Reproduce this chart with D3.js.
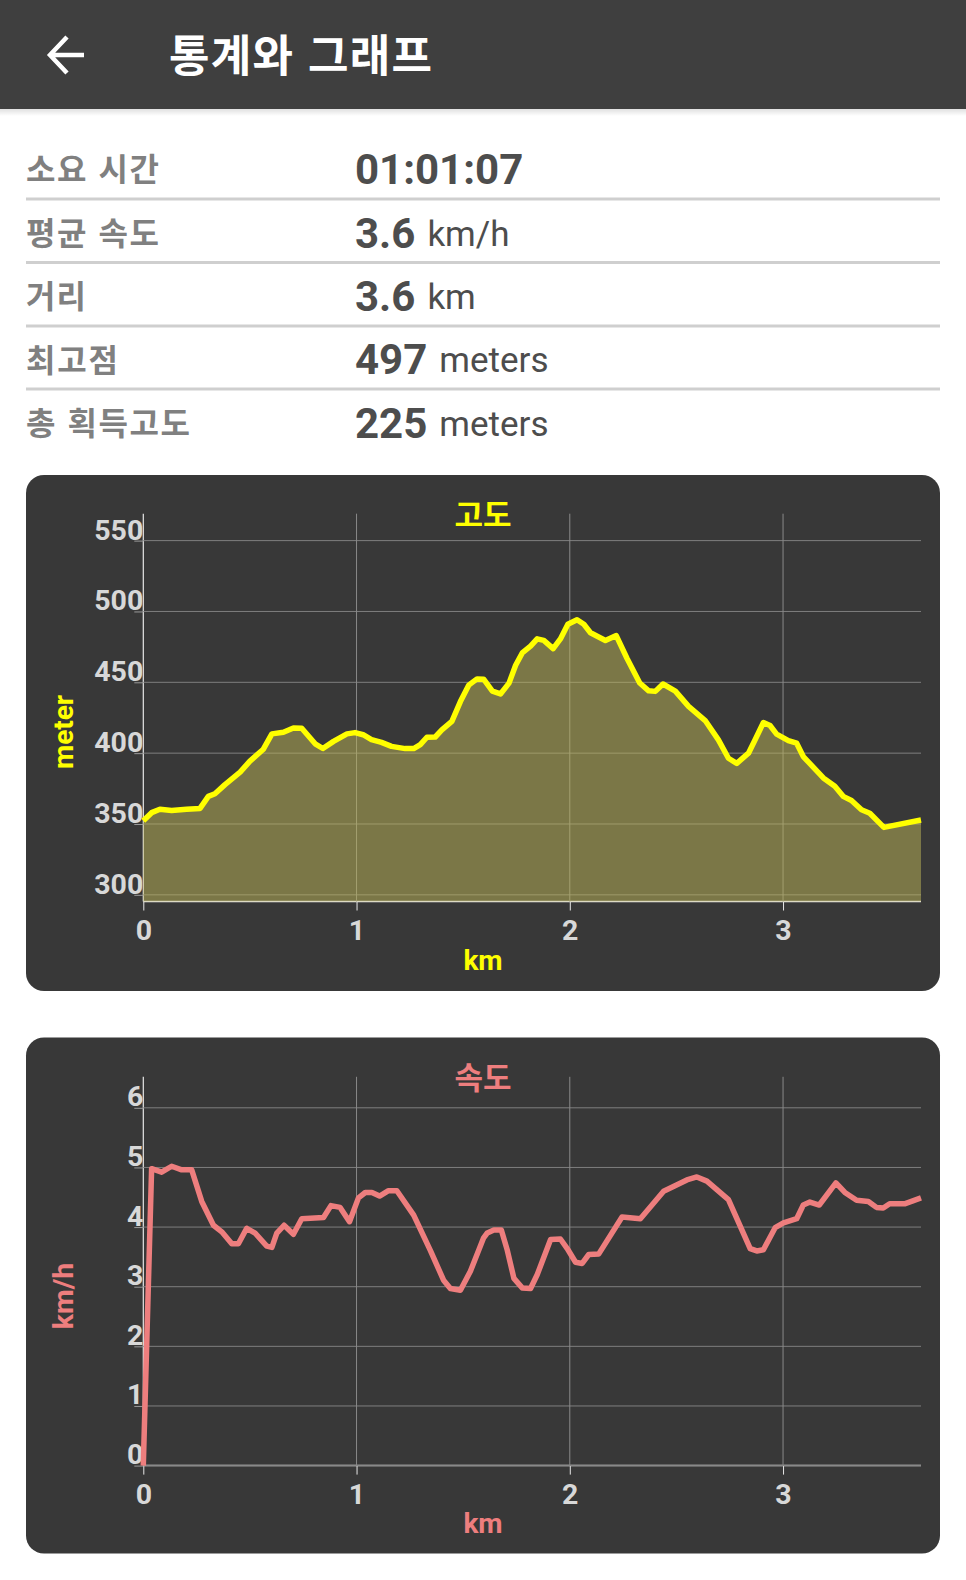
<!DOCTYPE html>
<html lang="ko">
<head>
<meta charset="utf-8">
<title>통계와 그래프</title>
<script src="https://cdn.jsdelivr.net/npm/d3@7/dist/d3.min.js"></script>
<style>
html,body{margin:0;padding:0;background:#fff;}
svg{display:block;}
text{font-family:Roboto,"Noto Sans CJK KR",sans-serif;}
.ko{font-family:"Noto Sans CJK KR",Roboto,sans-serif;}
</style>
</head>
<body>
<div id="chart"></div>
<script>
const pageTitle = "통계와 그래프";
const rowLabels = ["소요 시간","평균 속도","거리","최고점","총 획득고도"];
const rowValues = ["01:01:07","3.6","3.6","497","225"];
const rowUnits  = ["","km/h","km","meters","meters"];

const xTicks = [0,1,2,3];
const altTicks = [300,350,400,450,500,550];
const speedTicks = [0,1,2,3,4,5,6];

const altKm = [0,.039,.078,.133,.203,.266,.305,.336,.383,.454,.5,.563,.603,.657,.704,.743,.806,.842,.892,.955,.993,1.031,1.07,1.117,1.164,1.228,1.268,1.299,1.33,1.369,1.4,1.447,1.487,1.526,1.565,1.596,1.637,1.675,1.715,1.746,1.777,1.816,1.847,1.878,1.922,1.956,1.991,2.034,2.066,2.097,2.167,2.218,2.268,2.328,2.37,2.401,2.437,2.495,2.557,2.635,2.697,2.744,2.783,2.838,2.869,2.908,2.939,2.97,3.025,3.064,3.095,3.189,3.243,3.282,3.321,3.368,3.407,3.473,3.647];
const altM = [352.3,358,360.4,359.5,360.4,361,369.5,371.4,377.8,386.6,394.4,402.8,413.6,414.8,417.8,417.6,406.6,403.3,408.3,413.6,414.5,413,409.6,407.6,404.8,403.2,403.2,406,411.2,411.4,416.4,422.4,436.4,448,452.4,452.2,443.8,441.8,449.4,462,470.7,475.5,480.7,479.6,473.8,480.6,491,494.2,491,485,479.5,483,467,449.5,444,443.6,448.8,443.8,433,423,409.4,396.4,392.8,400,409.4,421.6,419.5,413.4,408.8,407,397.6,382.5,376.6,369.5,366.6,360,357.6,347.6,352.8];

const speedKm = [0,.039,.086,.133,.18,.227,.274,.329,.368,.415,.446,.485,.524,.579,.603,.626,.66,.704,.743,.845,.88,.923,.967,1.009,1.041,1.072,1.108,1.15,1.189,1.268,1.346,1.408,1.44,1.487,1.534,1.596,1.613,1.644,1.679,1.707,1.738,1.777,1.816,1.847,1.91,1.956,1.988,2.027,2.058,2.089,2.136,2.245,2.331,2.44,2.549,2.596,2.643,2.744,2.846,2.877,2.908,2.963,3.002,3.064,3.095,3.126,3.17,3.248,3.29,3.345,3.4,3.438,3.47,3.5,3.57,3.647];
const speedKmh = [0,4.98,4.92,5.02,4.96,4.96,4.43,4.03,3.92,3.72,3.72,3.98,3.9,3.68,3.66,3.9,4.03,3.88,4.14,4.16,4.36,4.33,4.09,4.49,4.58,4.58,4.52,4.61,4.61,4.2,3.61,3.11,2.97,2.94,3.26,3.82,3.9,3.95,3.95,3.61,3.14,2.98,2.97,3.2,3.79,3.8,3.64,3.41,3.39,3.54,3.55,4.17,4.14,4.6,4.79,4.84,4.77,4.46,3.64,3.6,3.62,3.99,4.07,4.14,4.37,4.42,4.37,4.74,4.58,4.45,4.43,4.33,4.32,4.39,4.39,4.49];

const svg = d3.select("#chart").append("svg").attr("width",966).attr("height",1580);

const defs = svg.append("defs");
const grad = defs.append("linearGradient").attr("id","sh").attr("x1",0).attr("x2",0).attr("y1",0).attr("y2",1);
grad.append("stop").attr("offset",0).attr("stop-color","#000").attr("stop-opacity",.12);
grad.append("stop").attr("offset",1).attr("stop-color","#000").attr("stop-opacity",0);

svg.append("rect").attr("width",966).attr("height",1580).attr("fill","#fff");
svg.append("rect").attr("x",0).attr("y",109).attr("width",966).attr("height",7).attr("fill","url(#sh)");
svg.append("rect").attr("width",966).attr("height",109).attr("fill","#3f3f3f");
svg.append("path").attr("d","M84 55H51M67 37L50 55L67 73").attr("fill","none").attr("stroke","#fff").attr("stroke-width",4.5);
svg.append("text").attr("class","ko").attr("x",169).attr("y",72).attr("font-size",44).attr("font-weight",700).attr("fill","#fff").attr("textLength",263).text(pageTitle);

const rowBase = [184,248,311,374,438];
const labelBase = [181,245,308,372,435];
const ruleY = [199,262.5,326,389];
const labelW = [133,133,60,92,164];
const rows = svg.append("g");
rows.selectAll(".lab").data(rowLabels).join("text").attr("class","ko")
  .attr("x",26).attr("y",(d,i)=>labelBase[i]).attr("font-size",32).attr("font-weight",700).attr("fill","#808080")
  .attr("textLength",(d,i)=>labelW[i]).text(d=>d);
rows.selectAll(".rule").data(ruleY).join("line").attr("x1",26).attr("x2",940).attr("y1",d=>d).attr("y2",d=>d).attr("stroke","#cfcfcf").attr("stroke-width",3);
rows.selectAll(".val").data(rowValues).join("text")
  .attr("x",355).attr("y",(d,i)=>rowBase[i]).attr("font-size",42).attr("font-weight",700).attr("fill","#4d4d4d")
  .each(function(d,i){
    const t=d3.select(this);
    t.append("tspan").text(d);
    if(rowUnits[i]) t.append("tspan").attr("dx",12).attr("font-size",35).attr("font-weight",400).attr("dy",-2).text(rowUnits[i]);
  });

function panel(o){
  const g = svg.append("g");
  g.append("rect").attr("x",26).attr("y",o.top).attr("width",914).attr("height",o.h).attr("rx",18).attr("fill","#383838");
  const x = d3.scaleLinear().domain([0,3.647]).range([143.3,921]);
  const y = d3.scaleLinear().domain(o.domain).range(o.range);
  const plotBottom = o.range[0], plotTop = o.range[1];

  const gx = g.append("g").attr("transform",`translate(0,${plotBottom})`)
    .call(d3.axisBottom(x).tickValues(xTicks).tickSize(9).tickFormat(d3.format("d")));
  gx.select(".domain").attr("stroke","#e8e8e8").attr("stroke-width",1.5).attr("d",`M143.3,0H921`);
  gx.selectAll(".tick line").attr("stroke","#e8e8e8").attr("stroke-width",1);
  gx.selectAll(".tick text").attr("dy",0).attr("y",38).attr("font-size",28.5).attr("font-weight",700).attr("fill","#d8d8d8").style("font-family","Roboto");

  const gy = g.append("g").attr("transform","translate(143.3,0)")
    .call(d3.axisLeft(y).tickValues(o.ticks).tickSize(9).tickFormat(d3.format("d")));
  gy.select(".domain").attr("stroke","#e8e8e8").attr("stroke-width",1.2).attr("d",`M0,${plotBottom}V${plotTop}`);
  gy.selectAll(".tick line").attr("stroke","#9a9a9a").attr("stroke-width",1);
  gy.selectAll(".tick text").attr("x",0).attr("dx",0).attr("dy",0).attr("y",o.tickDy).attr("text-anchor","end").attr("font-size",28.5).attr("font-weight",700).attr("fill","#d8d8d8").style("font-family","Roboto");

  const grid = g.append("g");
  grid.selectAll(".gh").data(o.ticks).join("line").attr("x1",x(0)).attr("x2",x(3.647))
    .attr("y1",d=>y(d)).attr("y2",d=>y(d)).attr("stroke","#7f7f7f").attr("stroke-width",1);
  grid.selectAll(".gv").data(xTicks.slice(1)).join("line").attr("x1",d=>x(d)).attr("x2",d=>x(d))
    .attr("y1",plotBottom).attr("y2",plotTop).attr("stroke","#8a8a8a").attr("stroke-width",1);

  const pts = o.xs.map((k,i)=>[k,o.ys[i]]);
  if(o.fill){
    g.append("path").datum(pts).attr("fill",o.fill).attr("fill-opacity",.5)
      .attr("d",d3.area().x(d=>x(d[0])).y0(plotBottom).y1(d=>y(d[1])));
  }
  g.append("path").datum(pts).attr("fill","none").attr("stroke",o.color).attr("stroke-width",o.sw).attr("stroke-linejoin","round")
    .attr("d",d3.line().x(d=>x(d[0])).y(d=>y(d[1])));

  g.append("text").attr("class","ko").attr("x",483).attr("y",o.top+51).attr("text-anchor","middle").attr("font-size",31).attr("font-weight",700).attr("fill",o.color).text(o.title);
  g.append("text").attr("x",483).attr("y",o.top+o.h-21).attr("text-anchor","middle").attr("font-size",28).attr("font-weight",700).attr("fill",o.color).text("km");
  g.append("text").attr("transform",`translate(${o.ylx},${o.yly}) rotate(-90)`).attr("text-anchor","middle").attr("font-size",o.ylSize).attr("font-weight",700).attr("fill",o.color).text(o.ylabel);
}

panel({top:475,h:516,title:"고도",ylabel:"meter",color:"#ffff00",sw:5.5,fill:"#beb656",tickDy:-1.5,ylSize:28,
  domain:[295.3,569],range:[901.5,513.7],ticks:altTicks,xs:altKm,ys:altM,ylx:73,yly:732});
panel({top:1037.5,h:516,title:"속도",ylabel:"km/h",color:"#ee7e7e",sw:5.5,fill:null,tickDy:-2,ylSize:28.5,
  domain:[0,6.52],range:[1465.6,1076.8],ticks:speedTicks,xs:speedKm,ys:speedKmh,ylx:73,yly:1296});
</script>
</body>
</html>
